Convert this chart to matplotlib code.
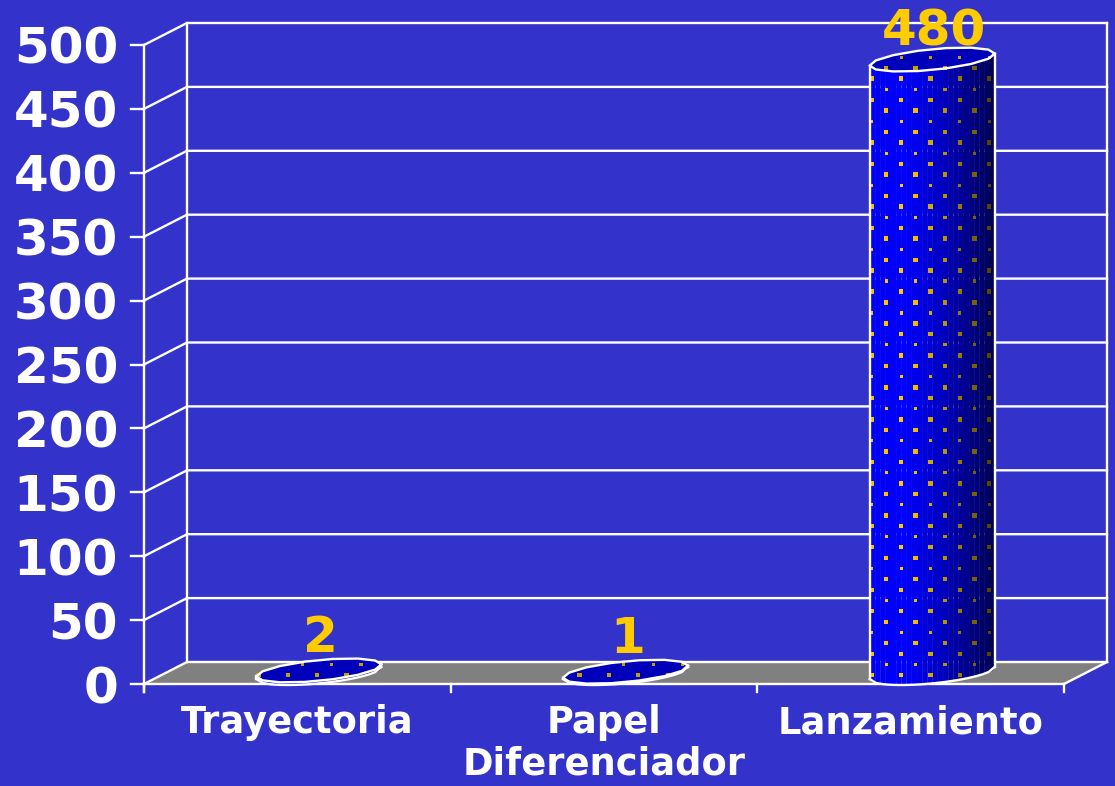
import matplotlib
matplotlib.use("Agg")
import matplotlib.pyplot as plt
import numpy as np
from matplotlib.path import Path

categories = ["Trayectoria", "Papel\nDiferenciador", "Lanzamiento"]
values = [2, 1, 480]
y_ticks = [0, 50, 100, 150, 200, 250, 300, 350, 400, 450, 500]

BG = "#3333CC"
FLOOR = "#808080"
GOLD = "#FFCC00"
TOP_BLUE = "#0000BB"

W, H = 1115, 786
X0, Y0 = 144, 684       # front corner of the chart
CAT_PX = 920 / 3        # one category along the floor
UNIT_PX = 639 / 500     # one value unit
DEPTH_X = 43 / CAT_PX   # depth of the box
DEPTH_Y = 22 / UNIT_PX
BAR_W = 125 / CAT_PX
ELL_B = 10.4 / UNIT_PX
ELL_TILT = 6 / UNIT_PX
ROW_STEP = 10.65 / UNIT_PX
COL_STEP = 29.4 / CAT_PX

plt.rcParams["font.family"] = ["DejaVu Sans"]
plt.rcParams["font.weight"] = "bold"

fig = plt.figure(figsize=(W / 100, H / 100), dpi=100, facecolor=BG)
ax = fig.add_axes([0, 0, 1, 1])
ax.set_xlim(-0.5 - X0 / CAT_PX, -0.5 + (W - X0) / CAT_PX)
ax.set_ylim((Y0 - H) / UNIT_PX, Y0 / UNIT_PX)
ax.axis("off")

x_lo, x_hi = -0.5, 2.5
y_hi = y_ticks[-1]
line = dict(color="white", lw=1.7, solid_capstyle="projecting")

# floor and back walls
ax.fill([x_lo, x_lo + DEPTH_X, x_hi + DEPTH_X, x_hi], [0, DEPTH_Y, DEPTH_Y, 0], color=FLOOR, zorder=1)
for t in y_ticks:
    ax.plot([x_lo, x_lo + DEPTH_X, x_hi + DEPTH_X], [t, t + DEPTH_Y, t + DEPTH_Y], zorder=2, **line)
    ax.plot([x_lo - 13 / CAT_PX, x_lo], [t, t], zorder=2, **line)
    ax.text(x_lo - 26 / CAT_PX, t, str(t), color="white", fontsize=36, ha="right", va="center_baseline", zorder=5)
ax.plot([x_lo + DEPTH_X] * 2, [DEPTH_Y, y_hi + DEPTH_Y], zorder=2, **line)
ax.plot([x_hi + DEPTH_X] * 2, [DEPTH_Y, y_hi + DEPTH_Y], zorder=2, **line)
ax.plot([x_hi, x_hi + DEPTH_X], [0, DEPTH_Y], zorder=2, **line)
ax.plot([x_lo, x_lo], [-8 / UNIT_PX, y_hi], zorder=2, **line)
ax.plot([x_lo, x_hi], [0, 0], zorder=2, **line)
for k in range(4):
    ax.plot([x_lo + k, x_lo + k], [-8 / UNIT_PX, 0], zorder=2, **line)


def shade(u):
    # brightness across the cylinder, u runs -1 (left) to 1 (right)
    return np.interp(u, [-1, -0.45, 0.1, 0.6, 1], [0.95, 1, 0.78, 0.52, 0.3])


def edge(cy, u, side):
    # side=1 upper half of the tilted ellipse, side=-1 lower half
    return cy + ELL_TILT * u + side * ELL_B * np.sqrt(1 - u ** 2)


def draw_bar(i, val):
    cx = i + DEPTH_X / 2
    a = BAR_W / 2
    y_bot = DEPTH_Y / 2
    y_top = val + DEPTH_Y / 2

    # body as vertical strips
    strips = np.linspace(-1, 1, 25)
    for u0, u1 in zip(strips[:-1], strips[1:]):
        us = np.linspace(u0, u1, 4)
        b = shade((u0 + u1) / 2)
        ax.fill_between(cx + a * us, edge(y_bot, us, -1), edge(y_top, us, -1),
                        color=(0, 0, b), lw=0, zorder=3)

    # top face, coarse polygon like the original
    t = np.linspace(0, 2 * np.pi, 15)
    top_x = cx + a * np.cos(t)
    top_y = y_top + ELL_TILT * np.cos(t) + ELL_B * np.sin(t)
    ax.fill(top_x, top_y, color=TOP_BLUE, lw=0, zorder=3.2)

    # gold dots
    body_u = np.linspace(-1, 1, 41)
    outline = np.column_stack([
        np.r_[cx + a * body_u, cx + a * body_u[::-1]],
        np.r_[edge(y_bot, body_u, -1), edge(y_top, body_u[::-1], 1)],
    ])
    outline_path = Path(outline)
    xs, ys, cs, sizes = [], [], [], []
    for row in range(int((y_top + ELL_B + 8) / ROW_STEP) + 1):
        y = 7 + row * ROW_STEP
        offset = (2 if (row + i) % 2 == 0 else 16.5) / CAT_PX
        for col in range(5):
            x = cx - a + offset + col * COL_STEP
            if not outline_path.contains_point((x, y)):
                continue
            u = (x - cx) / a
            on_top = (x - cx) ** 2 / a ** 2 + ((y - y_top - ELL_TILT * u) / ELL_B) ** 2 < 1
            b = 0.78 if on_top else shade(u)
            xs.append(x)
            ys.append(y)
            cs.append((b, 0.8 * b, 0))
            sizes.append(10 if row % 3 != 1 else 5)
    ax.scatter(xs, ys, s=sizes, c=cs, marker="s", lw=0, zorder=3.4)

    # white outline
    us = np.linspace(-1, 1, 21)
    ax.plot(cx + a * us, edge(y_bot, us, -1), color="white", lw=1.7, zorder=3.5)
    ax.plot([cx - a, cx - a], [y_bot - ELL_TILT, y_top - ELL_TILT], color="white", lw=1.7, zorder=3.5)
    ax.plot([cx + a, cx + a], [y_bot + ELL_TILT, y_top + ELL_TILT], color="white", lw=1.7, zorder=3.5)
    ax.plot(top_x, top_y, color="white", lw=1.7, zorder=3.6)

    gap = 11 if val > 100 else 14.5
    ax.text(cx + 2 / CAT_PX, y_top + gap, str(val), color=GOLD, fontsize=36, ha="center", va="baseline", zorder=6)


for i, val in enumerate(values):
    draw_bar(i, val)

for i, name in enumerate(categories):
    ax.text(i, -20 / UNIT_PX, name, color="white", fontsize=26.5,
            ha="center", va="top", linespacing=1.14, zorder=5)

fig.savefig("out.png", dpi=100, facecolor=BG)
